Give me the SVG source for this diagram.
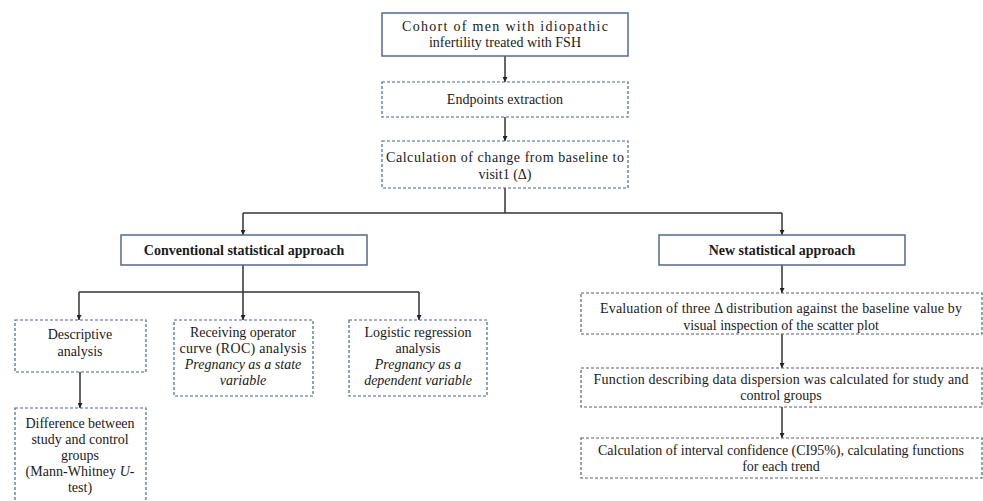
<svg xmlns="http://www.w3.org/2000/svg" width="983" height="501" viewBox="0 0 983 501">
<style>
text{font-family:"Liberation Serif","Times New Roman",serif;font-size:14px;fill:#1a1a1a;text-anchor:middle}
.b{font-weight:bold}
.i{font-style:italic}
.solid{fill:#fff;stroke:#50698f;stroke-width:1.5}
.dash{fill:#fff;stroke:#4d6488;stroke-width:1.2;stroke-dasharray:3 2}
.dashg{fill:#fff;stroke:#5a5f69;stroke-width:1.2;stroke-dasharray:3 2}
.c{fill:none;stroke:#333;stroke-width:1.5}
</style>
<defs>
<marker id="ah" viewBox="0 0 10 10" refX="10" refY="5" markerWidth="5" markerHeight="5" orient="auto" markerUnits="userSpaceOnUse">
<path d="M0,0 L10,5 L0,10 z" fill="#222"/>
</marker>
</defs>
<rect width="983" height="501" fill="#fff"/>
<g id="connectors">
<path class="c" d="M505,56 V82" marker-end="url(#ah)"/>
<path class="c" d="M505,117 V141" marker-end="url(#ah)"/>
<path class="c" d="M505,188 V213"/>
<path class="c" d="M243,213 H782"/>
<path class="c" d="M243,213 V235" marker-end="url(#ah)"/>
<path class="c" d="M782,213 V235" marker-end="url(#ah)"/>
<path class="c" d="M243,265 V320" marker-end="url(#ah)"/>
<path class="c" d="M79,292 H419"/>
<path class="c" d="M79,292 V320" marker-end="url(#ah)"/>
<path class="c" d="M419,292 V320" marker-end="url(#ah)"/>
<path class="c" d="M80,372 V408" marker-end="url(#ah)"/>
<path class="c" d="M782,265 V293" marker-end="url(#ah)"/>
<path class="c" d="M782,334 V368" marker-end="url(#ah)"/>
<path class="c" d="M782,407 V438" marker-end="url(#ah)"/>
</g>
<g id="cohort">
<rect class="solid" x="382" y="13" width="246" height="43"/>
<text x="505" y="31" textLength="206" lengthAdjust="spacing">Cohort of men with idiopathic</text>
<text x="505" y="47">infertility treated with FSH</text>
</g>
<g id="endpoints">
<rect class="dash" x="382" y="82" width="246" height="35"/>
<text x="505" y="104">Endpoints extraction</text>
</g>
<g id="calc-change">
<rect class="dash" x="382" y="141" width="246" height="47"/>
<text x="505" y="162" textLength="238" lengthAdjust="spacing">Calculation of change from baseline to</text>
<text x="505" y="179">visit1 (Δ)</text>
</g>
<g id="conventional">
<rect class="solid" x="121" y="235" width="246" height="30"/>
<text class="b" x="244" y="255">Conventional statistical approach</text>
</g>
<g id="new">
<rect class="solid" x="659" y="235" width="246" height="30"/>
<text class="b" x="782" y="255">New statistical approach</text>
</g>
<g id="descriptive">
<rect class="dash" x="15" y="320" width="131" height="52"/>
<text x="80" y="339">Descriptive</text>
<text x="80" y="356">analysis</text>
</g>
<g id="roc">
<rect class="dash" x="174" y="320" width="139" height="76"/>
<text x="243" y="337" textLength="106" lengthAdjust="spacing">Receiving operator</text>
<text x="243" y="353" textLength="127" lengthAdjust="spacing">curve (ROC) analysis</text>
<text class="i" x="243" y="369">Pregnancy as a state</text>
<text class="i" x="243" y="385">variable</text>
</g>
<g id="logistic">
<rect class="dash" x="349" y="320" width="138" height="76"/>
<text x="418" y="337">Logistic regression</text>
<text x="418" y="353">analysis</text>
<text class="i" x="418" y="369">Pregnancy as a</text>
<text class="i" x="418" y="385">dependent variable</text>
</g>
<g id="difference">
<rect class="dash" x="15" y="408" width="131" height="100"/>
<text x="80" y="428" textLength="109" lengthAdjust="spacing">Difference between</text>
<text x="80" y="444">study and control</text>
<text x="80" y="460">groups</text>
<text x="80" y="476" textLength="109" lengthAdjust="spacing">(Mann-Whitney <tspan class="i">U</tspan>-</text>
<text x="80" y="492">test)</text>
</g>
<g id="evaluation">
<rect class="dashg" x="581" y="293" width="401" height="41"/>
<text x="781" y="313" textLength="362" lengthAdjust="spacing">Evaluation of three Δ distribution against the baseline value by</text>
<text x="781" y="330">visual inspection of the scatter plot</text>
</g>
<g id="function">
<rect class="dashg" x="581" y="368" width="401" height="39"/>
<text x="781" y="384" textLength="375" lengthAdjust="spacing">Function describing data dispersion was calculated for study and</text>
<text x="781" y="400">control groups</text>
</g>
<g id="ci">
<rect class="dashg" x="581" y="438" width="401" height="40"/>
<text x="781" y="455" textLength="366" lengthAdjust="spacing">Calculation of interval confidence (CI95%), calculating functions</text>
<text x="781" y="471">for each trend</text>
</g>
</svg>
